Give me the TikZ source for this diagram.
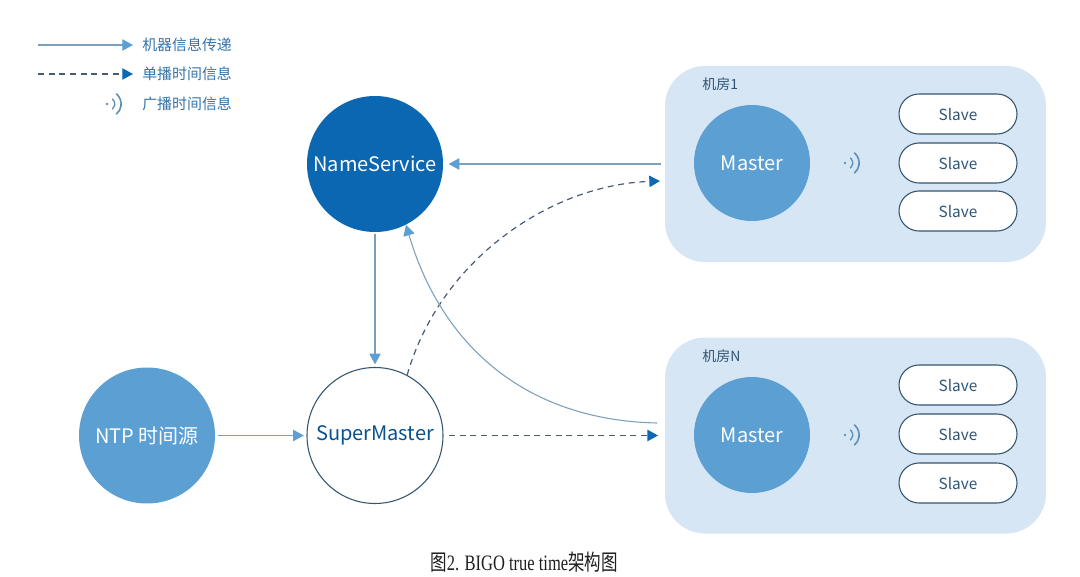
\documentclass[tikz,border=0pt]{standalone}
\usepackage{fontspec}
\usepackage{graphicx}
\setmainfont{Noto Sans CJK SC}
\newfontfamily\capserif{Liberation Serif}
\usetikzlibrary{arrows.meta,calc}
\definecolor{nsblue}{HTML}{0B67B2}
\definecolor{midblue}{HTML}{5B9FD3}
\definecolor{boxfill}{HTML}{D6E6F5}
\definecolor{darkline}{HTML}{33556F}
\definecolor{slavetext}{HTML}{2F5573}
\definecolor{legtext}{HTML}{3474AB}
\definecolor{solidline}{HTML}{7C9FBC}
\definecolor{lighttip}{HTML}{5B9FD4}
\definecolor{dashline}{HTML}{4A5C72}
\definecolor{darktip}{HTML}{0C68B2}
\definecolor{wifi}{HTML}{5D8FB4}
\tikzset{
  infoarrow/.style={draw=solidline, line width=0.8pt, -{Triangle[length=8pt,width=8.5pt,fill=lighttip,color=lighttip]}},
  castarrow/.style={draw=dashline, line width=0.9pt, dash pattern=on 4.5pt off 3.5pt, -{Triangle[length=8pt,width=8.5pt,fill=darktip,color=darktip]}},
  bigcircle/.style={circle, inner sep=0pt, minimum size=102pt, font=\fontsize{15}{18}\selectfont},
  mastercircle/.style={circle, inner sep=0pt, minimum size=87pt, fill=midblue, text=white, font=\fontsize{15}{18}\selectfont},
  roombox/.style={rectangle, rounded corners=30pt, fill=boxfill, minimum width=285.75pt, minimum height=147pt, inner sep=0pt},
  slavebox/.style={rectangle, rounded corners=15pt, draw=darkline, line width=0.8pt, fill=white, minimum width=88.5pt, minimum height=30pt, inner sep=0pt, text=slavetext, font=\fontsize{11.5}{13}\selectfont},
  legendtext/.style={anchor=west, text=legtext, font=\fontsize{11.2}{13}\selectfont, inner sep=0pt},
  roomlabel/.style={anchor=west, text=slavetext, font=\fontsize{10.5}{12}\selectfont, inner sep=0pt},
}
\newcommand{\wifiicon}[1]{%
  \fill[wifi] ($(#1)+(-7,0)$) circle (1.1pt);
  \draw[wifi, line width=1pt, line cap=round] ($(#1)+(-1.5,-5)$) arc[start angle=-50, end angle=50, radius=6.5];
  \draw[wifi, line width=1.2pt, line cap=round] ($(#1)+(2.5,-10)$) arc[start angle=-50, end angle=50, radius=13];
}
\begin{document}
\begin{tikzpicture}[x=0.75pt, y=-0.75pt]
\useasboundingbox (0,0) rectangle (1080,577);
\fill[white] (0,0) rectangle (1080,577);

% legend
\coordinate (l1a) at (38,45); \coordinate (l1b) at (133,45);
\coordinate (l2a) at (38,74); \coordinate (l2b) at (133,74);
\draw[infoarrow] (l1a) -- (l1b);
\draw[castarrow] (l2a) -- (l2b);
\coordinate (lw) at (114,104);
\wifiicon{lw}
\node[legendtext] (lt1) at (142,45) {机器信息传递};
\node[legendtext] (lt2) at (142,74) {单播时间信息};
\node[legendtext] (lt3) at (142,104) {广播时间信息};

% rooms
\node[roombox] (room1) at (855.5,164) {};
\node[roombox] (roomN) at (855.5,435.5) {};
\node[roomlabel] (r1lab) at (702,84) {机房1};
\node[roomlabel] (rNlab) at (702,356) {机房N};
\node[mastercircle] (m1) at (752,163) {Master};
\node[mastercircle] (mN) at (752,435) {Master};
\node[slavebox] (s11) at (958,114) {Slave};
\node[slavebox] (s12) at (958,163) {Slave};
\node[slavebox] (s13) at (958,211) {Slave};
\node[slavebox] (sN1) at (958,385) {Slave};
\node[slavebox] (sN2) at (958,434) {Slave};
\node[slavebox] (sN3) at (958,483) {Slave};
\coordinate (w1) at (852,163);
\coordinate (wN) at (852,435);
\wifiicon{w1}
\wifiicon{wN}

% main circles
\node[bigcircle, fill=nsblue, text=white] (ns) at (375,164) {NameService};
\node[bigcircle, fill=midblue, text=white] (ntp) at (147,435.5) {NTP 时间源};
\node[bigcircle, draw=darkline, line width=0.8pt, fill=white, text=nsblue!80!black] (sm) at (375,435.5) {SuperMaster};

% connectors
\coordinate (r1out) at (661,164);
\coordinate (r1in) at (660,181);
\coordinate (rNout) at (657,423);
\draw[infoarrow, shorten >=4pt] (r1out) -- (ns.east);
\draw[infoarrow, shorten <=1pt, shorten >=2pt] (ns.south) -- (sm.north);
\draw[infoarrow, shorten <=2pt, shorten >=2pt] (ntp.east) -- (sm.west);
\draw[castarrow, shorten <=4pt, shorten >=5pt] (sm.east) -- (roomN.west);
\draw[castarrow] (sm.62) .. controls (440,260) and (550,185) .. (r1in);
\draw[infoarrow] (rNout) .. controls (520,420) and (440,340) .. (ns.-63);

% caption
\node[inner sep=0pt, text=black!88] (cap) at (524,562) {\scalebox{0.75}[1]{\fontsize{16.5}{19}\selectfont 图{\capserif 2. BIGO true time}架构图}};
\end{tikzpicture}
\end{document}
